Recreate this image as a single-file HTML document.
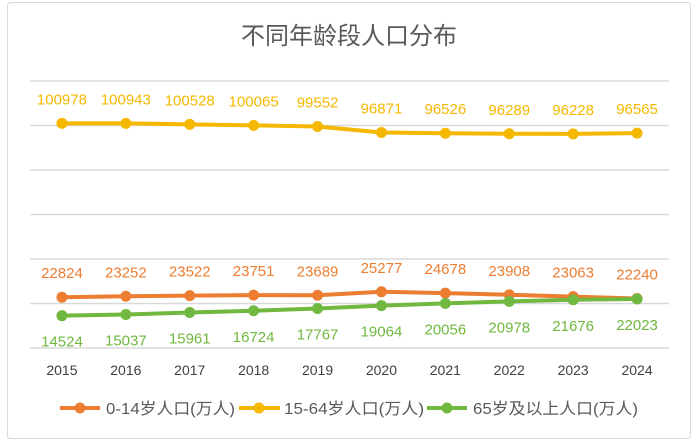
<!DOCTYPE html>
<html><head><meta charset="utf-8"><style>
body{margin:0;background:#fff;}
svg text{font-family:"Liberation Sans","Noto Sans CJK SC",sans-serif;}
</style></head><body>
<svg width="698" height="443" xmlns="http://www.w3.org/2000/svg">
<rect x="7.5" y="2.5" width="683" height="436" rx="3" fill="#fff" stroke="#d9d9d9"/>
<text x="349" y="44" text-anchor="middle" font-size="24" fill="#595959">不同年龄段人口分布</text>
<g id="grid"></g><g id="xlabels"></g><g id="series"></g>
<g font-size="16" fill="#595959">
<g><line x1="60" y1="408" x2="100" y2="408" stroke="#ed7d31" stroke-width="4"/><circle cx="80" cy="408" r="5.5" fill="#ed7d31"/><text x="106" y="414" textLength="129" lengthAdjust="spacingAndGlyphs">0-14岁人口(万人)</text></g>
<g><line x1="239" y1="408" x2="280" y2="408" stroke="#f5b800" stroke-width="4"/><circle cx="259" cy="408" r="5.5" fill="#f5b800"/><text x="284" y="414" textLength="140" lengthAdjust="spacingAndGlyphs">15-64岁人口(万人)</text></g>
<g><line x1="427" y1="408" x2="467" y2="408" stroke="#70b83f" stroke-width="4"/><circle cx="447" cy="408" r="5.5" fill="#70b83f"/><text x="473" y="414" textLength="165" lengthAdjust="spacingAndGlyphs">65岁及以上人口(万人)</text></g>
</g>
</svg>
<script>
const years=["2015","2016","2017","2018","2019","2020","2021","2022","2023","2024"];
const young=[22824,23252,23522,23751,23689,25277,24678,23908,23063,22240];
const working=[100978,100943,100528,100065,99552,96871,96526,96289,96228,96565];
const elderly=[14524,15037,15961,16724,17767,19064,20056,20978,21676,22023];
const yTicks=[0,20000,40000,60000,80000,100000,120000];
const NS="http://www.w3.org/2000/svg";
const left=30,right=669,y0=348,yTop=81,ymax=120000;
const bw=(right-left)/years.length;
const X=i=>left+bw*(i+0.5);
const Y=v=>y0-(v/ymax)*(y0-yTop);
function mk(t,a,p){const e=document.createElementNS(NS,t);for(const k in a)e.setAttribute(k,a[k]);p.appendChild(e);return e;}
const grid=document.getElementById('grid');
yTicks.forEach(v=>{const l=mk('line',{x1:left,x2:right,y1:Y(v),y2:Y(v),stroke:'#d9d9d9','stroke-width':1.5},grid);

});
const xl=document.getElementById('xlabels');
years.forEach((y,i)=>{const t=mk('text',{x:X(i),y:375,'text-anchor':'middle','font-size':14,fill:'#404040'},xl);t.textContent=y;

});
const sg=document.getElementById('series');
function series(vals,color,name,labelOff){
 const g=mk('g',{},sg);
 
 
 mk('polyline',{points:vals.map((v,i)=>X(i)+','+Y(v)).join(' '),fill:'none',stroke:color,'stroke-width':4,'stroke-linejoin':'round'},g);
 vals.forEach((v,i)=>{const c=mk('circle',{cx:X(i),cy:Y(v),r:5.5,fill:color},g);
  
  
  const t=mk('text',{x:X(i),y:Y(v)+labelOff,'text-anchor':'middle','font-size':15,fill:color},g);t.textContent=v;
  
  });
}
series(working,'#f5b800','series-15-64',-19);
series(young,'#ed7d31','series-0-14',-19);
series(elderly,'#70b83f','series-65plus',31);
</script>
</body></html>
